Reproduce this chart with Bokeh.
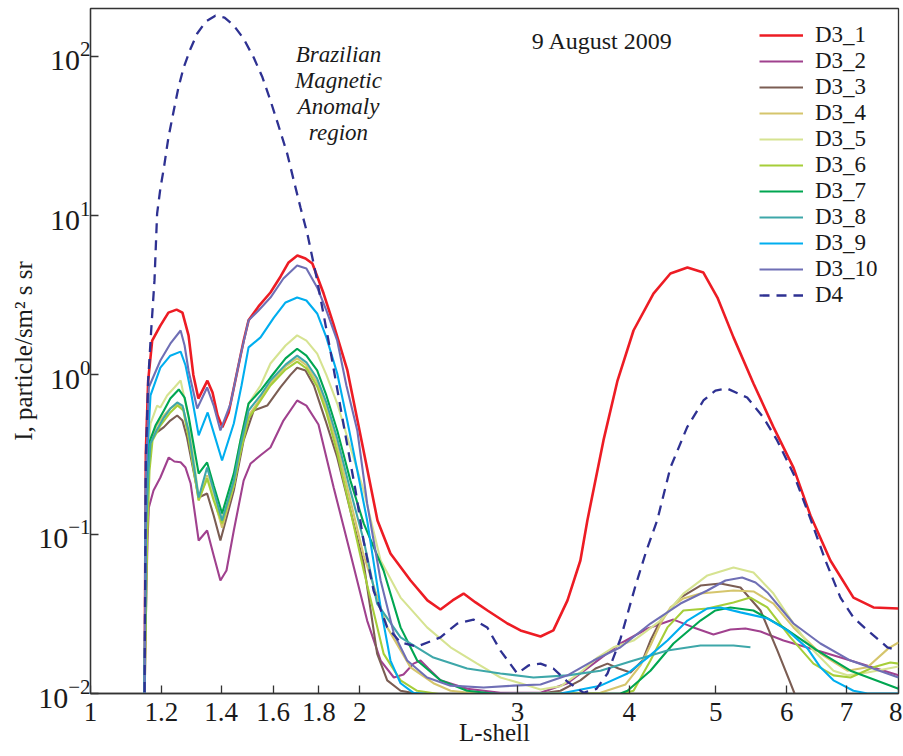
from bokeh.plotting import figure
from bokeh.models import Range1d, FixedTicker, LogTickFormatter, CustomJSTickFormatter, Label
from bokeh.embed import file_html
from bokeh.resources import INLINE

FONT = "Liberation Serif"

# ---- data: (L-shell, intensity) pairs ----
D3_1 = [(1.149, 0.008), (1.153, 0.321), (1.160, 0.922), (1.172, 1.64), (1.197, 2.04), (1.222, 2.46),
        (1.248, 2.57), (1.267, 2.46), (1.287, 1.77), (1.303, 1.0), (1.320, 0.71), (1.351, 0.92),
        (1.369, 0.775), (1.387, 0.556), (1.404, 0.47), (1.427, 0.581), (1.456, 1.0), (1.483, 1.64),
        (1.502, 2.2), (1.541, 2.69), (1.589, 3.29), (1.631, 4.15), (1.665, 5.08), (1.703, 5.62),
        (1.739, 5.38), (1.770, 5.0), (1.822, 3.24), (1.868, 2.10), (1.937, 1.066), (1.988, 0.517),
        (2.040, 0.251), (2.093, 0.122), (2.164, 0.0756), (2.279, 0.0512), (2.380, 0.0384),
        (2.461, 0.0337), (2.539, 0.0384), (2.612, 0.0424), (2.694, 0.0373), (2.778, 0.0332),
        (2.924, 0.0275), (3.024, 0.0249), (3.184, 0.0228), (3.291, 0.0249), (3.413, 0.0384),
        (3.528, 0.0684), (3.592, 0.122), (3.744, 0.388), (3.882, 0.922), (4.045, 1.90),
        (4.258, 3.24), (4.448, 4.33), (4.647, 4.72), (4.842, 4.39), (5.020, 3.06), (5.232, 1.72),
        (5.508, 0.883), (5.799, 0.47), (6.105, 0.262), (6.378, 0.131), (6.714, 0.0684),
        (7.124, 0.0400), (7.501, 0.0347), (8.0, 0.0342)]

D3_2 = [(1.149, 0.008), (1.153, 0.0287), (1.158, 0.0913), (1.162, 0.147), (1.176, 0.188), (1.197, 0.227),
        (1.223, 0.303), (1.241, 0.286), (1.261, 0.283), (1.277, 0.262), (1.294, 0.208), (1.321, 0.0913),
        (1.350, 0.1055), (1.373, 0.0735), (1.397, 0.0512), (1.419, 0.0592), (1.446, 0.1055),
        (1.483, 0.217), (1.510, 0.278), (1.549, 0.313), (1.589, 0.350), (1.643, 0.517), (1.702, 0.691),
        (1.743, 0.642), (1.798, 0.488), (1.870, 0.196), (1.952, 0.0756), (2.038, 0.0287),
        (2.110, 0.0161), (2.183, 0.0126), (2.238, 0.01316), (2.296, 0.0154), (2.338, 0.0161),
        (2.386, 0.01436), (2.461, 0.0121), (2.636, 0.0107), (2.872, 0.0101), (3.184, 0.0101),
        (3.413, 0.0116), (3.649, 0.0154), (3.912, 0.0206), (4.194, 0.0256), (4.483, 0.0291),
        (4.720, 0.0260), (4.969, 0.0235), (5.191, 0.0252), (5.395, 0.0256), (5.609, 0.0245),
        (5.950, 0.0215), (6.494, 0.0186), (7.070, 0.0161), (8.0, 0.0130)]

D3_3 = [(1.149, 0.008), (1.152, 0.0384), (1.157, 0.217), (1.162, 0.388), (1.182, 0.429), (1.208, 0.470),
        (1.228, 0.517), (1.250, 0.556), (1.267, 0.517), (1.282, 0.405), (1.321, 0.170), (1.350, 0.180),
        (1.373, 0.131), (1.397, 0.0913), (1.446, 0.188), (1.483, 0.388), (1.522, 0.598), (1.576, 0.642),
        (1.631, 0.837), (1.673, 1.0), (1.702, 1.11), (1.739, 1.066), (1.777, 0.858), (1.831, 0.517),
        (1.887, 0.303), (1.952, 0.141), (2.020, 0.0655), (2.091, 0.0178), (2.146, 0.0121),
        (2.221, 0.0104), (2.338, 0.0099), (3.184, 0.0100), (3.352, 0.0104), (3.528, 0.0121),
        (3.668, 0.01436), (3.783, 0.0154), (3.892, 0.01436), (4.013, 0.01355), (4.140, 0.0161),
        (4.225, 0.0215), (4.336, 0.0287), (4.565, 0.0400), (4.806, 0.0476), (5.059, 0.0490),
        (5.327, 0.0463), (5.609, 0.0332), (5.858, 0.0186), (6.058, 0.0116), (6.168, 0.0090)]

D3_4 = [(1.149, 0.008), (1.153, 0.0915), (1.161, 0.251), (1.167, 0.388), (1.185, 0.481), (1.208, 0.556),
        (1.228, 0.615), (1.251, 0.661), (1.270, 0.615), (1.287, 0.417), (1.321, 0.163), (1.350, 0.234),
        (1.373, 0.170), (1.403, 0.110), (1.446, 0.202), (1.471, 0.335), (1.502, 0.556), (1.549, 0.711),
        (1.589, 0.883), (1.652, 1.13), (1.702, 1.27), (1.743, 1.15), (1.792, 0.896), (1.835, 0.624),
        (1.887, 0.361), (1.952, 0.163), (2.020, 0.0735), (2.146, 0.0260), (2.279, 0.01457),
        (2.417, 0.0116), (2.526, 0.0104), (2.750, 0.0099), (3.715, 0.0101), (3.963, 0.0114),
        (4.118, 0.0150), (4.225, 0.0200), (4.336, 0.0275), (4.448, 0.0347), (4.599, 0.0395),
        (4.806, 0.0424), (5.232, 0.0443), (5.508, 0.0437), (5.799, 0.0367), (6.105, 0.0260),
        (6.544, 0.0178), (7.015, 0.0139), (7.386, 0.0146), (7.795, 0.0192), (8.0, 0.0209)]

D3_5 = [(1.149, 0.008), (1.153, 0.122), (1.161, 0.335), (1.167, 0.495), (1.187, 0.642), (1.197, 0.624),
        (1.218, 0.743), (1.241, 0.834), (1.261, 0.922), (1.287, 0.540), (1.321, 0.170), (1.352, 0.227),
        (1.373, 0.170), (1.397, 0.122), (1.446, 0.227), (1.471, 0.388), (1.502, 0.661), (1.549, 0.858),
        (1.589, 1.18), (1.652, 1.53), (1.702, 1.77), (1.743, 1.64), (1.792, 1.36), (1.835, 1.0),
        (1.887, 0.661), (1.952, 0.350), (2.020, 0.188), (2.110, 0.0684), (2.221, 0.0400),
        (2.378, 0.0260), (2.526, 0.0195), (2.705, 0.0154), (2.872, 0.0126), (3.024, 0.0116),
        (3.184, 0.0106), (3.352, 0.0111), (3.528, 0.01355), (3.686, 0.0168), (3.842, 0.0195),
        (4.045, 0.0215), (4.336, 0.0287), (4.599, 0.0424), (4.892, 0.0551), (5.232, 0.0618),
        (5.508, 0.0575), (5.799, 0.0424), (6.105, 0.0275), (6.427, 0.0186), (6.767, 0.0139),
        (7.015, 0.0130), (7.386, 0.01355), (8.0, 0.01477)]

D3_6 = [(1.149, 0.008), (1.157, 0.0913), (1.164, 0.251), (1.173, 0.388), (1.197, 0.481), (1.228, 0.581),
        (1.251, 0.642), (1.270, 0.598), (1.287, 0.405), (1.321, 0.163), (1.350, 0.224), (1.373, 0.163),
        (1.403, 0.117), (1.446, 0.202), (1.471, 0.326), (1.502, 0.533), (1.549, 0.691), (1.589, 0.858),
        (1.652, 1.08), (1.702, 1.21), (1.743, 1.10), (1.792, 0.846), (1.835, 0.581), (1.887, 0.326),
        (1.952, 0.141), (2.020, 0.0592), (2.126, 0.0178), (2.221, 0.0121), (2.318, 0.0104),
        (2.461, 0.0099), (3.912, 0.0099), (4.045, 0.0104), (4.225, 0.0161), (4.414, 0.0260),
        (4.599, 0.0332), (4.892, 0.0342), (5.232, 0.0373), (5.465, 0.0400), (5.708, 0.0347),
        (6.058, 0.0225), (6.427, 0.0154), (6.767, 0.0130), (7.070, 0.0126), (7.501, 0.0146),
        (7.834, 0.01565), (8.0, 0.0154)]

D3_7 = [(1.149, 0.008), (1.153, 0.122), (1.162, 0.371), (1.182, 0.481), (1.208, 0.598), (1.228, 0.711),
        (1.255, 0.810), (1.274, 0.721), (1.288, 0.540), (1.321, 0.240), (1.350, 0.282), (1.373, 0.202),
        (1.403, 0.135), (1.446, 0.240), (1.471, 0.388), (1.502, 0.661), (1.549, 0.798), (1.589, 0.963),
        (1.652, 1.27), (1.702, 1.46), (1.743, 1.32), (1.792, 1.066), (1.835, 0.743), (1.887, 0.448),
        (1.952, 0.217), (2.020, 0.117), (2.126, 0.0592), (2.221, 0.0260), (2.318, 0.0161),
        (2.461, 0.0121), (2.636, 0.0104), (2.872, 0.0099), (3.912, 0.0100), (3.983, 0.0104),
        (4.225, 0.0139), (4.483, 0.0206), (4.806, 0.0287), (4.994, 0.0332), (5.191, 0.0347),
        (5.508, 0.0332), (5.950, 0.0260), (6.494, 0.0186), (7.070, 0.0139), (8.0, 0.0107)]

D3_8 = [(1.149, 0.008), (1.153, 0.1055), (1.161, 0.251), (1.167, 0.371), (1.185, 0.448), (1.208, 0.540),
        (1.228, 0.615), (1.250, 0.671), (1.267, 0.642), (1.287, 0.448), (1.321, 0.170), (1.350, 0.262),
        (1.373, 0.188), (1.403, 0.122), (1.446, 0.217), (1.471, 0.361), (1.502, 0.598), (1.549, 0.743),
        (1.589, 0.922), (1.652, 1.16), (1.702, 1.32), (1.743, 1.20), (1.792, 0.949), (1.835, 0.671),
        (1.887, 0.399), (1.952, 0.188), (2.020, 0.0913), (2.091, 0.0367), (2.221, 0.0225),
        (2.417, 0.0168), (2.636, 0.01436), (2.872, 0.01335), (3.127, 0.0126), (3.413, 0.0130),
        (3.715, 0.0139), (4.045, 0.0161), (4.414, 0.0186), (4.806, 0.0200), (5.232, 0.0200),
        (5.465, 0.0195)]

D3_9 = [(1.149, 0.008), (1.153, 0.217), (1.167, 0.743), (1.197, 1.11), (1.228, 1.32), (1.261, 1.40),
        (1.277, 1.15), (1.294, 0.798), (1.321, 0.417), (1.352, 0.581), (1.376, 0.417), (1.403, 0.290),
        (1.446, 0.495), (1.475, 0.858), (1.502, 1.49), (1.549, 1.72), (1.603, 2.29), (1.652, 2.85),
        (1.702, 3.06), (1.743, 2.93), (1.792, 2.43), (1.835, 1.72), (1.887, 1.02), (1.936, 0.517),
        (1.987, 0.251), (2.038, 0.122), (2.110, 0.0347), (2.164, 0.0161), (2.221, 0.0116),
        (2.296, 0.0101), (2.400, 0.0099), (3.352, 0.0100), (3.715, 0.0112), (3.983, 0.01335),
        (4.194, 0.0168), (4.414, 0.0215), (4.647, 0.0287), (4.892, 0.0342), (5.059, 0.0347),
        (5.327, 0.0323), (5.708, 0.0296), (6.011, 0.0249), (6.329, 0.0192), (6.544, 0.0146),
        (6.767, 0.0121), (7.124, 0.0104), (7.386, 0.0100), (8.0, 0.0100)]

D3_10 = [(1.149, 0.008), (1.153, 0.217), (1.162, 0.837), (1.197, 1.232), (1.228, 1.57), (1.261, 1.90),
         (1.274, 1.53), (1.287, 1.066), (1.316, 0.615), (1.350, 0.834), (1.373, 0.642), (1.397, 0.448),
         (1.434, 0.661), (1.471, 1.32), (1.502, 2.20), (1.541, 2.54), (1.589, 3.06), (1.643, 4.03),
         (1.702, 4.86), (1.743, 4.66), (1.792, 3.54), (1.835, 2.54), (1.887, 1.64), (1.932, 0.858),
         (1.987, 0.448), (2.038, 0.156), (2.110, 0.0512), (2.183, 0.0238), (2.259, 0.0161),
         (2.378, 0.0126), (2.526, 0.0112), (2.750, 0.0109), (2.970, 0.0112), (3.184, 0.0114),
         (3.413, 0.0130), (3.649, 0.0161), (3.912, 0.0195), (4.225, 0.0275), (4.565, 0.0367),
         (4.892, 0.0443), (5.125, 0.0512), (5.350, 0.0535), (5.537, 0.0498), (5.708, 0.0431),
         (6.105, 0.0275), (6.544, 0.0206), (7.070, 0.0161), (8.0, 0.0126)]

D4 = [(1.149, 0.008), (1.153, 0.290), (1.160, 0.922), (1.169, 1.90), (1.179, 3.92), (1.187, 10.3),
      (1.197, 14.8), (1.208, 20.0), (1.222, 30.9), (1.239, 45.7), (1.254, 63.7), (1.271, 85.1),
      (1.294, 112), (1.316, 139), (1.345, 165), (1.379, 180), (1.412, 175), (1.446, 156),
      (1.483, 129), (1.522, 98.2), (1.557, 73.6), (1.589, 52.8), (1.622, 36.8), (1.659, 24.5),
      (1.686, 16.9), (1.717, 11.2), (1.747, 7.72), (1.792, 3.92),
      (1.854, 1.42), (1.932, 0.388), (1.978, 0.188), (2.019, 0.0913), (2.072, 0.0443), (2.146, 0.0260),
      (2.221, 0.0209), (2.318, 0.0197), (2.461, 0.0225), (2.570, 0.0275), (2.679, 0.0291),
      (2.776, 0.0260), (2.872, 0.0186), (2.999, 0.01335), (3.087, 0.0150), (3.184, 0.0154),
      (3.291, 0.01436), (3.410, 0.0119), (3.556, 0.0101), (3.677, 0.0107), (3.783, 0.01335),
      (3.912, 0.0221), (4.066, 0.0476), (4.182, 0.079), (4.299, 0.122), (4.448, 0.262), (4.644, 0.47),
      (4.842, 0.691), (4.994, 0.798), (5.148, 0.821), (5.419, 0.721), (5.651, 0.540), (5.854, 0.388),
      (6.105, 0.240), (6.378, 0.125), (6.629, 0.0684), (6.890, 0.0400), (7.124, 0.030),
      (7.386, 0.0249), (7.774, 0.0195), (8.0, 0.0186)]

SERIES = [("D3_1", D3_1), ("D3_2", D3_2), ("D3_3", D3_3), ("D3_4", D3_4), ("D3_5", D3_5),
          ("D3_6", D3_6), ("D3_7", D3_7), ("D3_8", D3_8), ("D3_9", D3_9), ("D3_10", D3_10),
          ("D4", D4)]

X_TICKS = [1, 1.2, 1.4, 1.6, 1.8, 2, 3, 4, 5, 6, 7, 8]
Y_TICKS = [0.01, 0.1, 1, 10, 100]

# ---- styles ----
COLORS = {"D3_1": "#ed1c24", "D3_2": "#a0418e", "D3_3": "#7b5d53", "D3_4": "#d5c56c",
          "D3_5": "#d6e391", "D3_6": "#a6ce39", "D3_7": "#00a651", "D3_8": "#3ea7a9",
          "D3_9": "#00aeef", "D3_10": "#6f6fb5", "D4": "#2e3192"}
WIDTHS = {"D3_1": 2.6, "D4": 2.3}
TEXT = "#1a1a1a"

p = figure(width=902, height=756, x_axis_type="log", y_axis_type="log",
           x_range=Range1d(1, 8), y_range=Range1d(0.01, 199.6),
           output_backend="svg", toolbar_location=None,
           min_border_left=90, min_border_right=4, min_border_top=8, min_border_bottom=63)
p.grid.visible = False
p.outline_line_color = "#333333"
p.outline_line_width = 1.3
p.background_fill_color = "white"
p.border_fill_color = "white"

for name, pts in SERIES:
    xs = [a for a, _ in pts]
    ys = [b for _, b in pts]
    kw = dict(line_color=COLORS[name], line_width=WIDTHS.get(name, 2.1), legend_label=name)
    if name == "D4":
        kw["line_dash"] = "10 7"
    p.line(xs, ys, **kw)

# axes
p.xaxis.ticker = FixedTicker(ticks=X_TICKS)
p.xaxis.formatter = CustomJSTickFormatter(code="return String(Math.round(tick * 10) / 10);")
p.yaxis.ticker = FixedTicker(ticks=Y_TICKS)
p.yaxis.formatter = LogTickFormatter()
for ax in (p.xaxis[0], p.yaxis[0]):
    ax.axis_line_color = "#333333"
    ax.axis_line_width = 1.3
    ax.major_tick_line_color = "#333333"
    ax.major_tick_line_width = 1.3
    ax.major_tick_in = 8
    ax.major_tick_out = 0
    ax.minor_tick_line_color = None
    ax.major_label_text_font = FONT
    ax.major_label_text_color = TEXT
    ax.axis_label_text_font = FONT
    ax.axis_label_text_font_style = "normal"
    ax.axis_label_text_font_size = "25px"
    ax.axis_label_text_color = TEXT

p.xaxis.axis_label = "L-shell"
p.xaxis.major_label_text_font_size = "27px"
p.xaxis.major_label_standoff = 9
p.xaxis.axis_label_standoff = -5

p.yaxis.axis_label = "I, particle/sm\u00b2 s sr"
p.yaxis.major_label_text_font_size = "30px"
p.yaxis.major_label_standoff = 0
p.yaxis.axis_label_standoff = -2

# legend
lg = p.legend[0]
lg.location = (669, 385)
lg.padding = 4
lg.margin = 0
lg.spacing = 0
lg.glyph_width = 44
lg.glyph_height = 26
lg.label_height = 26
lg.label_standoff = 12
lg.border_line_color = None
lg.background_fill_alpha = 0
lg.label_text_font = FONT
lg.label_text_font_size = "23px"
lg.label_text_color = TEXT

# annotations
for txt, yv in [("Brazilian", 102.2), ("Magnetic", 70.0), ("Anomaly", 48.4), ("region", 33.4)]:
    p.add_layout(Label(x=1.893, y=yv, text=txt, text_align="center", text_baseline="alphabetic",
                       text_font=FONT, text_font_style="italic", text_font_size="23px",
                       text_color=TEXT))
p.add_layout(Label(x=3.734, y=124.4, text="9 August 2009", text_align="center",
                   text_baseline="alphabetic", text_font=FONT, text_font_size="24px",
                   text_color=TEXT))

open("out.html", "w").write(file_html(p, INLINE))
